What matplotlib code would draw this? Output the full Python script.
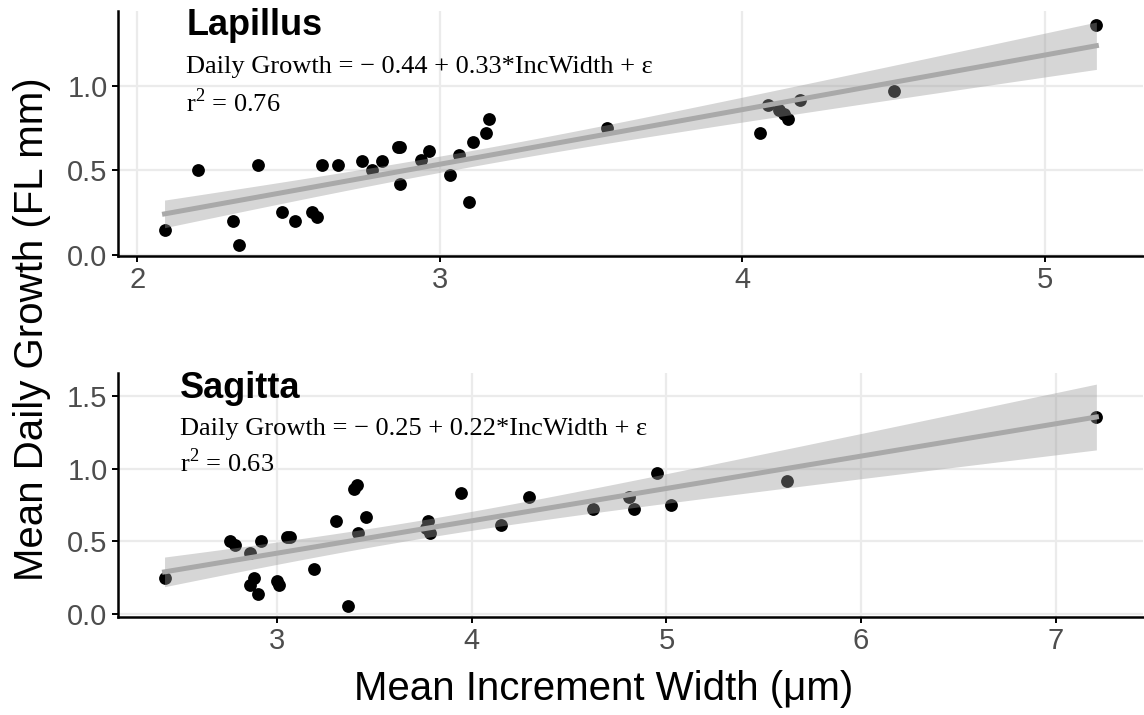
import numpy as np
import matplotlib
matplotlib.use("Agg")
import matplotlib.pyplot as plt

plt.rcParams['mathtext.fontset'] = 'custom'
plt.rcParams['mathtext.rm'] = 'Liberation Serif'

# Lapillus: mean increment width (um) vs mean daily growth (FL mm)
lap_x = [2.09, 2.20, 2.315, 2.336, 2.40, 2.478, 2.522, 2.579, 2.594, 2.61,
         2.662, 2.742, 2.775, 2.808, 2.863, 2.868, 2.87, 2.937, 2.963, 3.035,
         3.065, 3.097, 3.111, 3.154, 3.163, 3.553, 4.059, 4.085, 4.12, 4.137,
         4.152, 4.191, 4.503, 5.171]
lap_y = [0.144, 0.503, 0.199, 0.059, 0.531, 0.252, 0.199, 0.252, 0.223, 0.531,
         0.531, 0.558, 0.505, 0.558, 0.641, 0.641, 0.42, 0.56, 0.613, 0.475,
         0.59, 0.31, 0.669, 0.722, 0.807, 0.753, 0.723, 0.889, 0.858, 0.834,
         0.806, 0.917, 0.972, 1.36]

# Sagitta
sag_x = [2.42, 2.759, 2.784, 2.861, 2.879, 2.861, 2.90, 2.918, 2.998, 3.007,
         3.05, 3.063, 3.189, 3.302, 3.361, 3.396, 3.407, 3.414, 3.455, 3.775,
         3.762, 3.786, 3.943, 4.148, 4.295, 4.621, 4.807, 4.832, 4.95, 5.022,
         5.62, 7.21]
sag_y = [0.248, 0.50, 0.472, 0.42, 0.248, 0.195, 0.138, 0.50, 0.225, 0.195,
         0.528, 0.528, 0.305, 0.638, 0.053, 0.862, 0.885, 0.557, 0.665, 0.642,
         0.592, 0.557, 0.833, 0.612, 0.807, 0.72, 0.807, 0.72, 0.97, 0.748,
         0.917, 1.36]

panels = [
    ("Lapillus", lap_x, lap_y, "Daily Growth = \u2212 0.44 + 0.33*IncWidth + \u03b5",
     "r$^{\\mathregular{2}}$ = 0.76", [2, 3, 4, 5], [0.0, 0.5, 1.0]),
    ("Sagitta", sag_x, sag_y, "Daily Growth = \u2212 0.25 + 0.22*IncWidth + \u03b5",
     "r$^{\\mathregular{2}}$ = 0.63", [3, 4, 5, 6, 7], [0.0, 0.5, 1.0, 1.5]),
]

fig = plt.figure(figsize=(11.44, 7.15), dpi=100)
axes = [fig.add_axes([0.1031, 0.642, 0.896, 0.3427]),
        fig.add_axes([0.1031, 0.137, 0.896, 0.3413])]

T_CRIT = 2.035  # approx t(0.975, ~32 df)

for ax, (name, xs, ys, eq, r2, xt, yt) in zip(axes, panels):
    x = np.array(xs)
    y = np.array(ys)
    n = len(x)
    b, a = np.polyfit(x, y, 1)
    xg = np.linspace(x.min(), x.max(), 100)
    yg = a + b * xg
    resid = y - (a + b * x)
    s = np.sqrt(np.sum(resid ** 2) / (n - 2))
    sxx = np.sum((x - x.mean()) ** 2)
    se = s * np.sqrt(1 / n + (xg - x.mean()) ** 2 / sxx)
    lo = yg - T_CRIT * se
    hi = yg + T_CRIT * se

    ax.scatter(x, y, s=85, color="black", zorder=3, linewidths=0)
    ax.fill_between(xg, lo, hi, color="#999999", alpha=0.4, linewidth=0, zorder=4)
    ax.plot(xg, yg, color="#A9A9A9", linewidth=3.6, zorder=5)

    # ggplot-like expansion
    xr = x.max() - x.min()
    ax.set_xlim(x.min() - 0.05 * xr, x.max() + 0.05 * xr)
    ymin = min(y.min(), lo.min())
    ymax = max(y.max(), hi.max())
    yr = ymax - ymin
    ax.set_ylim(ymin - 0.05 * yr, ymax + 0.05 * yr)

    ax.set_xticks(xt)
    ax.set_yticks(yt)
    ax.set_yticklabels(["%.1f" % v for v in yt])
    ax.grid(True, color="#EBEBEB", linewidth=1.6)
    ax.set_axisbelow(True)
    for sp in ["top", "right"]:
        ax.spines[sp].set_visible(False)
    for sp in ["left", "bottom"]:
        ax.spines[sp].set_linewidth(1.8)
        ax.spines[sp].set_color("black")
    ax.tick_params(length=4, width=1.4, color="black", labelcolor="#4D4D4D",
                   labelsize=21, pad=3.5)
    for lab in ax.get_xticklabels() + ax.get_yticklabels():
        lab.set_family("Liberation Sans")

axes[0].text(0.0668, 0.902, "Lapillus", transform=axes[0].transAxes, fontsize=26,
             fontweight="bold", family="Liberation Sans", va="baseline")
axes[0].text(0.0668, 0.747, panels[0][3], transform=axes[0].transAxes, fontsize=19,
             family="Liberation Serif", va="baseline")
axes[0].text(0.0668, 0.588, panels[0][4], transform=axes[0].transAxes, fontsize=19,
             family="Liberation Serif", va="baseline")

axes[1].text(0.0605, 0.898, "Sagitta", transform=axes[1].transAxes, fontsize=26,
             fontweight="bold", family="Liberation Sans", va="baseline")
axes[1].text(0.0605, 0.746, panels[1][3], transform=axes[1].transAxes, fontsize=19,
             family="Liberation Serif", va="baseline")
axes[1].text(0.0605, 0.594, panels[1][4], transform=axes[1].transAxes, fontsize=19,
             family="Liberation Serif", va="baseline")

fig.text(0.028, 0.54, "Mean Daily Growth (FL mm)", rotation=90, ha="center", va="center",
         fontsize=29, family="Liberation Sans")
fig.text(0.528, 0.037, "Mean Increment Width (\u03bcm)", ha="center", va="center",
         fontsize=29, family="Liberation Sans")

fig.savefig("out.png", dpi=100)
